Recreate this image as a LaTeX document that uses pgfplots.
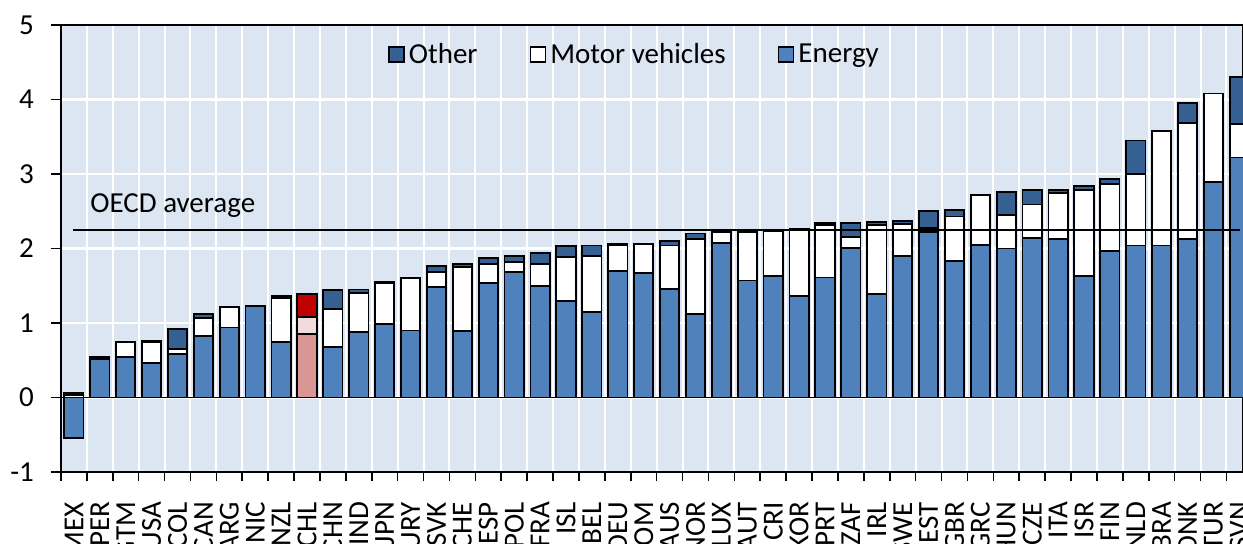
\documentclass[border=0pt]{standalone}
\usepackage{fontspec}
\setmainfont{Carlito}
\usepackage{pgfplots}
\usepackage{pgfplotstable}
\pgfplotsset{compat=1.18}
\definecolor{bgblue}{HTML}{DCE6F2}
\definecolor{energyc}{HTML}{4F81BD}
\definecolor{otherc}{HTML}{376092}
\definecolor{chlenergy}{HTML}{DA9694}
\definecolor{chlmotor}{HTML}{F2DCDB}
\definecolor{chlother}{HTML}{C00000}
\newcommand\fs{\fontsize{14.5}{17}\selectfont}

% energy, motor vehicles, other (components, stacked)
\pgfplotstableread{
x name energy motor other
0 MEX -0.54 0.03 0.03
1 PER 0.51 0.02 0.02
2 GTM 0.54 0.20 0.00
3 USA 0.46 0.28 0.02
4 COL 0.58 0.07 0.27
5 CAN 0.82 0.25 0.05
6 ARG 0.94 0.27 0.00
7 NIC 1.23 0.00 0.00
8 NZL 0.74 0.60 0.02
9 CHL 0.85 0.23 0.31
10 CHN 0.68 0.51 0.25
11 IND 0.88 0.52 0.05
12 JPN 0.99 0.55 0.01
13 URY 0.90 0.70 0.00
14 SVK 1.48 0.20 0.08
15 CHE 0.89 0.86 0.04
16 ESP 1.54 0.25 0.08
17 POL 1.68 0.14 0.08
18 FRA 1.50 0.29 0.15
19 ISL 1.29 0.60 0.14
20 BEL 1.15 0.75 0.14
21 DEU 1.70 0.35 0.01
22 DOM 1.67 0.39 0.00
23 AUS 1.46 0.58 0.06
24 NOR 1.12 1.01 0.07
25 LUX 2.07 0.15 0.02
26 AUT 1.57 0.65 0.03
27 CRI 1.63 0.61 0.00
28 KOR 1.36 0.90 0.00
29 PRT 1.61 0.70 0.03
30 ZAF 2.01 0.14 0.19
31 IRL 1.39 0.93 0.04
32 SWE 1.90 0.43 0.04
33 EST 2.22 0.05 0.23
34 GBR 1.83 0.60 0.09
35 GRC 2.05 0.67 0.00
36 HUN 2.00 0.45 0.31
37 CZE 2.14 0.45 0.20
38 ITA 2.13 0.62 0.04
39 ISR 1.63 1.16 0.05
40 FIN 1.97 0.90 0.06
41 NLD 2.04 0.96 0.45
42 BRA 2.04 1.54 0.00
43 DNK 2.13 1.55 0.27
44 TUR 2.89 1.19 0.00
45 SVN 3.22 0.45 0.63
}\taxdata

\begin{document}
\begin{tikzpicture}
\begin{axis}[
    at={(30.5pt,36pt)}, anchor=south west,
    scale only axis,
    width=591pt, height=223.5pt,
    axis background/.style={fill=bgblue},
    ybar, bar width=0.745,
    xmin=-0.5, xmax=45.14,
    ymin=-1, ymax=5,
    xtick={0,...,45},
    xticklabels from table={\taxdata}{name},
    minor xtick={-0.5,0.5,...,45.5},
    major x tick style={draw=none},
    ytick={-1,0,...,5},
    yticklabels={-1,0,1,2,3,4,5},
    xtick pos=left, ytick pos=left,
    tick align=outside,
    major tick length=5pt, minor tick length=4.5pt,
    tick style={black, line width=0.8pt},
    xminorgrids, ymajorgrids,
    minor grid style={white, line width=1pt},
    major grid style={white, line width=1.3pt},
    axis line style={black, line width=0.8pt},
    xticklabel style={rotate=90, anchor=east, xshift=-6.5pt, font=\fs},
    yticklabel style={font=\fs, xshift=-5pt},
    legend columns=3,
    legend style={at={(0.486,0.933)}, anchor=center, draw=none, fill=none,
        font=\fs, /tikz/every even column/.append style={column sep=24pt}},
    bars/.style={bar shift=0pt, draw=black, line width=0.9pt,
        legend image code/.code={\draw[##1] (0pt,-3.6pt) rectangle (7.5pt,3.9pt);}},
]
% zero line
\addplot[ybar=false, sharp plot, black, line width=0.9pt, forget plot]
    coordinates {(-0.5,0) (45.14,0)};
% total (top segment = other)
\addplot[bars, fill=otherc] table[x=x,
    y expr={max(\thisrow{energy},0)+\thisrow{motor}+\thisrow{other}}] {\taxdata};
\addlegendentry{Other}
% energy + motor vehicles
\addplot[bars, fill=white] table[x=x,
    y expr={max(\thisrow{energy},0)+\thisrow{motor}}] {\taxdata};
\addlegendentry{Motor vehicles}
% energy
\addplot[bars, fill=energyc] table[x=x, y=energy] {\taxdata};
\addlegendentry{Energy}
% Chile highlighted
\addplot[bars, fill=chlother, forget plot] coordinates {(9,1.39)};
\addplot[bars, fill=chlmotor, forget plot] coordinates {(9,1.08)};
\addplot[bars, fill=chlenergy, forget plot] coordinates {(9,0.85)};
% OECD average
\addplot[ybar=false, sharp plot, black, line width=0.7pt, forget plot]
    coordinates {(-0.04,2.25) (45.02,2.25)};
\node[anchor=base west, inner sep=0pt, font=\fs] at (axis cs:0.62,2.48) {OECD average};
\end{axis}
\pgfresetboundingbox
\useasboundingbox (0,0) rectangle (621.5pt,272pt);
\end{tikzpicture}
\end{document}
